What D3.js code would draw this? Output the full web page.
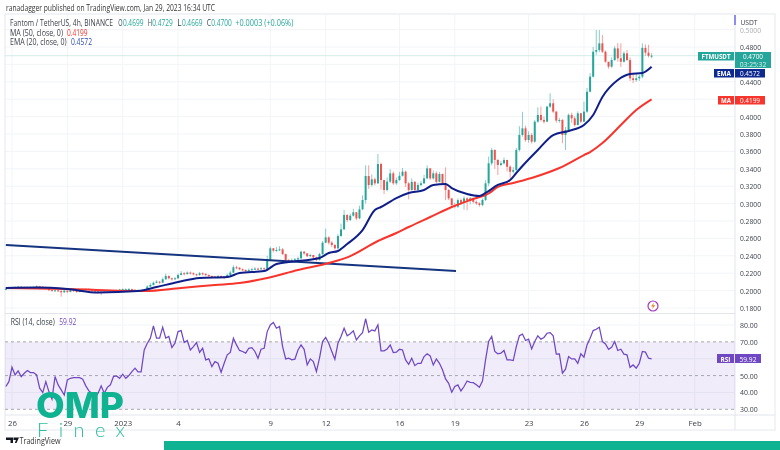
<!DOCTYPE html>
<html><head><meta charset="utf-8">
<script src="https://cdn.jsdelivr.net/npm/d3@7"></script>
<style>html,body{margin:0;padding:0;background:#fff}svg{display:block;filter:blur(.3px)}text{font-family:"Open Sans",sans-serif}</style>
</head><body><svg id="c" width="780" height="450"></svg>
<script>
const closes=[.2020,.2035,.2030,.2040,.2045,.2035,.2040,.2030,.2035,.2040,
.2050,.2045,.2040,.2030,.2005,.2000,.2003,.1995,.1980,.2000,
.1985,.2005,.1995,.1985,.2000,.2005,.2015,.2010,.2005,.1990,
.1985,.1975,.1985,.1985,.1990,.1995,.2000,.2010,.2015,.2015,
.2018,.2010,.2005,.2005,.1995,.2000,.2046,.2065,.2090,.2103,
.2092,.2130,.2168,.2141,.2130,.2141,.2180,.2199,.2190,.2207,
.2199,.2187,.2180,.2199,.2191,.2180,.2168,.2161,.2155,.2168,
.2161,.2149,.2180,.2207,.2268,.2262,.2245,.2237,.2230,.2237,
.2245,.2252,.2248,.2256,.2250,.2352,.2486,.2459,.2467,.2474,
.2420,.2352,.2344,.2352,.2360,.2371,.2447,.2428,.2395,.2409,
.2382,.2352,.2420,.2551,.2612,.2551,.2524,.2486,.2627,.2704,
.2869,.2811,.2861,.2900,.2830,.2934,.3041,.3317,.3214,.3279,
.3233,.3455,.3271,.3156,.3252,.3348,.3233,.3271,.3320,.3367,
.3233,.3156,.3250,.3156,.3214,.3233,.3290,.3405,.3290,.3348,
.3250,.3340,.3233,.3156,.3060,.2984,.2965,.3040,.3010,.3060,
.3040,.3060,.3020,.3003,.2984,.3042,.3233,.3463,.3616,.3502,
.3444,.3463,.3501,.3424,.3366,.3385,.3617,.3789,.3865,.3731,
.3789,.3712,.3942,.4019,.3961,.3942,.4114,.4153,.4057,.3954,
.3961,.3789,.3846,.4019,.3980,.3903,.4038,.3942,.4057,.4286,
.4459,.4746,.4765,.4842,.4746,.4631,.4574,.4650,.4784,.4670,
.4631,.4727,.4650,.4440,.4420,.4440,.4459,.4790,.4735,.4699,.4700];
const highs=[.2035,.2045,.2045,.2050,.2055,.2050,.2050,.2045,.2045,.2050,
.2060,.2055,.2050,.2045,.2035,.2015,.2015,.2010,.2005,.2015,
.2005,.2020,.2010,.2005,.2015,.2020,.2025,.2025,.2020,.2010,
.1995,.1990,.1995,.1995,.2000,.2005,.2010,.2020,.2025,.2025,
.2028,.2022,.2015,.2015,.2010,.2020,.2060,.2085,.2105,.2120,
.2110,.2150,.2195,.2175,.2150,.2155,.2195,.2225,.2215,.2220,
.2220,.2210,.2195,.2215,.2210,.2200,.2185,.2175,.2170,.2180,
.2175,.2165,.2195,.2225,.2290,.2285,.2270,.2255,.2245,.2255,
.2260,.2270,.2265,.2270,.2265,.2400,.2505,.2490,.2500,.2510,
.2490,.2425,.2365,.2370,.2375,.2390,.2460,.2455,.2430,.2425,
.2410,.2390,.2435,.2570,.2712,.2625,.2570,.2535,.2650,.2770,
.2925,.2880,.2885,.2940,.2905,.2975,.3095,.3440,.3440,.3335,
.3300,.3570,.3470,.3275,.3300,.3395,.3370,.3300,.3365,.3410,
.3380,.3250,.3290,.3260,.3240,.3260,.3330,.3440,.3410,.3380,
.3370,.3365,.3345,.3417,.3170,.3060,.3010,.3060,.3060,.3085,
.3075,.3075,.3060,.3035,.3015,.3060,.3270,.3540,.3640,.3625,
.3510,.3490,.3530,.3505,.3440,.3420,.3640,.3890,.4055,.3895,
.3830,.3810,.3960,.4107,.4115,.4000,.4125,.4268,.4200,.4065,
.3985,.3975,.3880,.4035,.4045,.4005,.4060,.4045,.4172,.4330,
.4500,.4800,.4995,.4995,.4938,.4760,.4620,.4680,.4810,.4845,
.4842,.4750,.4765,.4680,.4500,.4500,.4480,.4842,.4830,.4825,.4729];
const lows=[.2005,.2015,.2015,.2025,.2030,.2025,.2025,.2020,.2020,.2030,
.2035,.2035,.2030,.2020,.1995,.1990,.1990,.1985,.1930,.1975,
.1970,.1980,.1985,.1975,.1980,.1995,.2000,.2000,.1990,.1975,
.1965,.1950,.1970,.1975,.1980,.1985,.1990,.1995,.2005,.2005,
.2005,.2000,.1995,.1995,.1985,.1985,.2000,.2040,.2060,.2085,
.2075,.2085,.2125,.2130,.2115,.2125,.2135,.2175,.2175,.2185,
.2185,.2175,.2165,.2170,.2175,.2165,.2155,.2150,.2145,.2150,
.2150,.2130,.2145,.2175,.2205,.2245,.2235,.2225,.2215,.2220,
.2230,.2235,.2235,.2240,.2240,.2240,.2340,.2440,.2445,.2455,
.2410,.2330,.2325,.2330,.2340,.2350,.2360,.2410,.2385,.2390,
.2365,.2335,.2345,.2410,.2545,.2530,.2500,.2470,.2470,.2620,
.2695,.2790,.2800,.2850,.2810,.2820,.2925,.3000,.3170,.3195,
.3210,.3225,.3160,.3110,.3140,.3235,.3215,.3215,.3260,.3310,
.3190,.3049,.3150,.3145,.3150,.3200,.3225,.3280,.3270,.3275,
.3235,.3245,.3220,.3040,.3040,.2965,.2945,.2950,.2985,.2930,
.2925,.2990,.3000,.2985,.2965,.2970,.3030,.3200,.3440,.3400,
.3329,.3430,.3450,.3370,.3290,.3350,.3370,.3600,.3770,.3710,
.3700,.3690,.3700,.3930,.3945,.3920,.3935,.4100,.4040,.3930,
.3930,.3693,.3616,.3830,.3930,.3885,.3900,.3925,.3940,.4040,
.4280,.4450,.4710,.4740,.4730,.4620,.4550,.4560,.4640,.4630,
.4570,.4620,.4640,.4410,.4385,.4400,.4410,.4440,.4700,.4680,.4669];
const firstOpen=.2015;
const rsiValues=[43.5,46.4,55,50.4,52.8,49.4,51.4,53,51.8,51.8,
50.4,42.5,39.9,46.4,40.5,36,49.4,44.5,41.5,38.5,
47.4,48.4,48.8,48.8,48.8,47.8,43.9,40.9,39.5,36.5,
39.5,43.9,39.5,43,44.5,49.4,49.8,48.4,50.8,48.4,
50,52.4,54.4,52.2,52.2,65.2,69.2,72.2,79.5,72.2,
72.2,78.7,72.2,73.2,66.6,69.2,76.1,76.7,69.6,70.8,
65.2,67.2,69.6,63.7,66.2,59.3,59.9,55.3,58.3,57.3,
52,57.3,62.3,63.7,72.2,68.2,64.9,64.3,63.3,66.2,
66.6,64.3,60.3,65.6,66.2,76.1,80,81.5,78.1,79.1,
67.2,59.9,60.3,59.3,59.7,65.2,68.2,65.6,56.3,59.9,
58.3,52.4,60.3,70.2,72.6,69.2,64.3,59.7,69.2,73.2,
78.1,73.6,74.8,76.5,71.2,73.6,75.5,83.7,75.7,77.1,
76.5,80.1,64.7,64.7,65.8,68.2,63.7,63.9,65.6,65.2,
59.3,56.7,60.3,55.9,57.3,57.3,61.3,62.9,61.7,56.3,
59.9,57.3,53.4,48,45.4,40.1,43.5,44.5,40.9,43.5,
46.8,46,45.8,44.5,43.1,46.8,59.3,70.2,73.2,64.3,
62.9,63.3,64.9,59.3,59.3,58.9,67.2,73.6,74.6,70.8,
71.6,65.8,70.2,73.6,71.6,72.6,75.1,75.5,73.6,62.7,
62.9,51.4,53.8,61.3,59.9,59.9,57.3,62.9,60.9,68.2,
72.2,76.7,77.5,78.7,70.2,68.8,65.6,66.8,70.2,64.9,
65.6,62.7,62.3,54.9,56.3,54.4,57.3,64.3,63.9,60.3,59.92];
const maIndex=[0,20,45,57,68,76,85,95,105,112,121,127,131,138,145,151,157,160,165,172,180,188,190,194,200,205,210];
const maValues=[.2030,.2018,.1995,.2030,.2064,.2087,.2145,.2237,.2317,.2397,.2570,.2662,.2731,.2846,.2961,.3041,.3116,.3191,.3237,.3306,.3409,.3558,.3593,.3696,.3903,.4076,.4199];
const emaIndex=[0,10,20,30,43,49,56,63,72,76,84,88,92,102,105,108,111,116,120,122,127,131,136,139,143,145,150,154,156,160,164,166,168,173,178,183,188,191,194,199,203,207,210];
const emaValues=[.2030,.2035,.2018,.1978,.1995,.2041,.2099,.2145,.2156,.2202,.2225,.2306,.2329,.2375,.2432,.2455,.2535,.2696,.2926,.2961,.3064,.3122,.3156,.3214,.3225,.3179,.3110,.3087,.3122,.3214,.3271,.3352,.3432,.3616,.3788,.3835,.3903,.4018,.4225,.4420,.4489,.4501,.4572];
const trendIndex=[0,146.4];
const trendValues=[.2524,.2225];
const timeTickIndex=[2,20,38,56,86,104,128,146,170,188,206,224];
const timeTickLabels=["26","29","2023","4","9","12","16","19","23","26","29","Feb"];
const priceTicks=[.18,.2,.22,.24,.26,.28,.3,.32,.34,.36,.38,.4,.44,.48,.5];
const priceGrid=[.18,.2,.22,.24,.26,.28,.3,.32,.34,.36,.38,.4,.42,.44,.46,.48,.5];
const rsiTicks=[30,40,50,70,80];

const UP="#26a69a",DOWN="#ef5350",NAVY="#0f1f8a",MAC="#f7352c",PUR="#7048c4",TXT="#3a3f4a";
const svg=d3.select("#c");
const x=d3.scaleLinear().domain([0,210]).range([5.85,651.6]);
const y=d3.scaleLinear().domain([.18,.5]).range([308,29.6]);
const yr=d3.scaleLinear().domain([30,80]).range([409.3,325]);
const L=5,R=735,FR=775,T=15,PB=313.5,RB=415,B=430,lastPrice=.47;

const grid=svg.append("g").attr("stroke","#f2f4f8").attr("stroke-width",1);
grid.selectAll(".v").data(timeTickIndex).join("line").attr("x1",d=>x(d)).attr("x2",d=>x(d)).attr("y1",T).attr("y2",RB);
grid.selectAll(".h").data(priceGrid).join("line").attr("x1",L).attr("x2",R).attr("y1",d=>y(d)).attr("y2",d=>y(d));
grid.selectAll(".r").data([40,60,80]).join("line").attr("x1",L).attr("x2",R).attr("y1",d=>yr(d)).attr("y2",d=>yr(d));
svg.append("rect").attr("x",L).attr("y",T-1).attr("width",FR-L).attr("height",B-T+1).attr("fill","none").attr("stroke","#e6e8ee");
[[L,R,PB,PB],[L,FR,RB,RB],[R,R,T,B]].forEach(a=>svg.append("line").attr("x1",a[0]).attr("x2",a[1]).attr("y1",a[2]).attr("y2",a[3]).attr("stroke","#e3e5eb"));
svg.append("line").attr("x1",L).attr("x2",R).attr("y1",y(lastPrice)).attr("y2",y(lastPrice)).attr("stroke","#d5ece8");

const idx=d3.range(closes.length);
const col=i=>closes[i]>=(i?closes[i-1]:firstOpen)?UP:DOWN;
svg.append("g").selectAll("line").data(idx).join("line")
 .attr("x1",i=>x(i)).attr("x2",i=>x(i)).attr("y1",i=>y(highs[i])).attr("y2",i=>y(lows[i]))
 .attr("stroke",col).attr("stroke-opacity",.55).attr("stroke-width",1);
svg.append("g").selectAll("rect").data(idx).join("rect")
 .attr("x",i=>x(i)-1).attr("width",2)
 .attr("y",i=>y(Math.max(closes[i],i?closes[i-1]:firstOpen)))
 .attr("height",i=>Math.max(1,Math.abs(y(closes[i])-y(i?closes[i-1]:firstOpen))))
 .attr("fill",col);

const ln=(ix,vals,sc,curve)=>d3.line().curve(curve||d3.curveLinear).x((d,i)=>x(ix?ix[i]:i)).y(d=>sc(d))(vals);
svg.append("path").attr("d",ln(trendIndex,trendValues,y)).attr("fill","none").attr("stroke","#15347f").attr("stroke-width",2);
svg.append("path").attr("d",ln(maIndex,maValues,y,d3.curveMonotoneX)).attr("fill","none").attr("stroke",MAC).attr("stroke-width",2);
svg.append("path").attr("d",ln(emaIndex,emaValues,y,d3.curveMonotoneX)).attr("fill","none").attr("stroke",NAVY).attr("stroke-width",2);

svg.append("rect").attr("x",L).attr("width",R-L).attr("y",yr(70)).attr("height",yr(30)-yr(70)).attr("fill","#7048c4").attr("fill-opacity",.1);
svg.append("g").selectAll("line").data([30,50,70]).join("line").attr("x1",L).attr("x2",R).attr("y1",d=>yr(d)).attr("y2",d=>yr(d)).attr("stroke","#a6a8b0").attr("stroke-dasharray","3 3");
svg.append("path").attr("d",ln(null,rsiValues,yr)).attr("fill","none").attr("stroke",PUR).attr("stroke-width",1.25);

const tAxis=d3.axisBottom(x).tickValues(timeTickIndex).tickSize(0).tickPadding(4).tickFormat((d,i)=>timeTickLabels[i]);
const gt=svg.append("g").attr("transform",`translate(0,${RB+1})`).call(tAxis);
const pAxis=d3.axisRight(y).tickValues(priceTicks).tickSize(0).tickPadding(5).tickFormat(d3.format(".4f"));
const gp=svg.append("g").attr("transform",`translate(${R},0)`).call(pAxis);
gp.selectAll(".tick").filter(d=>d===.5).attr("opacity",.45);
const rAxis=d3.axisRight(yr).tickValues(rsiTicks).tickSize(0).tickPadding(5).tickFormat(d3.format(".2f"));
const gr=svg.append("g").attr("transform",`translate(${R},0)`).call(rAxis);
[gt,gp,gr].forEach(g=>{g.select(".domain").remove();g.selectAll("text").attr("fill",TXT).attr("font-size",7.8).attr("font-family",'"Open Sans",sans-serif');});
gp.selectAll("text").attr("textLength",21).attr("lengthAdjust","spacingAndGlyphs");
gr.selectAll("text").attr("textLength",17.7).attr("lengthAdjust","spacingAndGlyphs");

function txt(s,tx,ty,fs,fill,anchor,len){const t=svg.append("text").attr("x",tx).attr("y",ty).attr("font-size",fs).attr("fill",fill).attr("text-anchor",anchor||"start").text(s);if(len)t.attr("textLength",len).attr("lengthAdjust","spacingAndGlyphs");return t;}
function tag(x0,w,y0,h,fill){svg.append("rect").attr("x",x0).attr("y",y0).attr("width",w).attr("height",h).attr("fill",fill);}

txt("ranadagger published on TradingView.com, Jan 29, 2023 16:34 UTC",6,11,8.3,"#333","start",209);
txt("Fantom / TetherUS, 4h, BINANCE",10,26,8.3,TXT,"start",103);
[["O","0.4699",118.3],["H","0.4729",147.7],["L","0.4669",177.3],["C","0.4700",206.7]].forEach(p=>{txt(p[0],p[2],26,8.3,TXT,"start",4.3);txt(p[1],p[2]+4.6,26,8.3,UP,"start",20.5);});
txt("+0.0003 (+0.06%)",235.3,26,8.3,UP,"start",58);
txt("MA (50, close, 0)",10,35.5,8.3,TXT,"start",53);txt("0.4199",67,35.5,8.3,MAC,"start",20.5);
txt("EMA (20, close, 0)",10,45,8.3,TXT,"start",56.7);txt("0.4572",71,45,8.3,"#2b4ab0","start",21);
txt("RSI (14, close)",10.7,325,8.3,TXT,"start",44);txt("59.92",59.3,325,8.3,PUR,"start",17);
txt("USDT",740.5,25,8,TXT,"start",17);
svg.append("rect").attr("x",734).attr("y",15).attr("width",2).attr("height",10).attr("fill","#8f8cf0");

tag(698,36,52,8.5,UP);txt("FTMUSDT",716,59,7.4,"#fff","middle",29).attr("font-weight",700);
tag(735,36,52,16,UP);txt("0.4700",753,59,7.8,"#fff","middle",20);txt("03:25:32",753,66.5,7,"#d8f2ee","middle",26.7);
tag(714,20,69,8.5,"#0f2a8f");txt("EMA",724,76,7.2,"#fff","middle",14).attr("font-weight",700);
tag(735,30,69,8.5,"#0f2a8f");txt("0.4572",750,76,7.8,"#fff","middle",20);
tag(718,16,96,8.5,MAC);txt("MA",726,103,7.2,"#fff","middle",10).attr("font-weight",700);
tag(735,30,96,8.5,MAC);txt("0.4199",750,103,7.8,"#fff","middle",20);
tag(717,17,354,9,PUR);txt("RSI",725.5,361.5,7.2,"#fff","middle",10).attr("font-weight",700);
tag(735,26,354,9,PUR);txt("59.92",748,361.5,7.8,"#fff","middle",17);

svg.append("circle").attr("cx",653).attr("cy",306).attr("r",5).attr("fill","#fff").attr("stroke","#a23bb8").attr("stroke-width",1.2);
svg.append("path").attr("d","M654 302.5L651 306.5H653L652 309.5L655.2 305.3H653.2Z").attr("fill","#e08a2a");

const G="#10b391";
svg.append("text").attr("x",36).attr("y",418).attr("font-size",36).attr("font-weight",800).attr("fill",G).attr("textLength",88).attr("lengthAdjust","spacingAndGlyphs").style("font-family","Inter").text("OMP");
svg.append("text").attr("x",37).attr("y",437).attr("font-size",20).attr("font-weight",300).attr("fill","#2dbd9f").attr("textLength",88).attr("lengthAdjust","spacing").style("font-family","Lato").text("Finex");
svg.append("path").attr("d","M6 437.5H13V443H10.5V440H6ZM13.5 437.5H19L16.5 443H14.8L16 440H13.5Z").attr("fill","#131722");
txt("TradingView",19.5,443.5,8.2,"#333","start",41);
tag(164,616,441,9,G);
</script></body></html>
